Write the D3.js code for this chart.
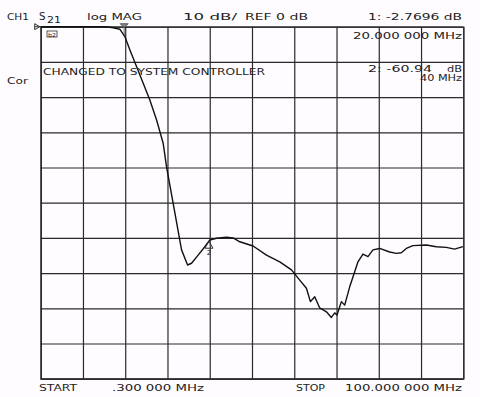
<!DOCTYPE html>
<html><head><meta charset="utf-8">
<script src="https://cdn.jsdelivr.net/npm/d3@7"></script>
<style>
html,body{margin:0;padding:0;background:#fefcfe;}
svg{display:block;}
text{font-family:"DejaVu Sans",sans-serif;fill:#222;}
</style></head>
<body>
<svg id="c" width="480" height="397"></svg>
<script>
// Sweep settings
const startMHz = 0.3;
const stopMHz = 100;
const refDb = 0;
const dbPerDiv = 10;
const xDivisions = 10;
const yDivisions = 10;

// Trace: frequency (MHz) and S21 magnitude (dB)
const freqMHz = [0.3, 5, 10, 14.3, 16.2, 17.4, 19.0, 20.17, 21.35, 22.93, 24.48, 26.05, 27.64, 29.19, 29.99, 31.55, 33.53, 34.95, 35.89, 37.44, 39.02, 40.2, 41.78, 44.14, 45.69, 47.27, 50.41, 53.56, 56.7, 59.46, 61.41, 62.99, 63.93, 64.95, 66.13, 67.71, 68.88, 69.66, 70.2, 71.24, 72.02, 73.2, 74.38, 75.15, 76.33, 77.51, 78.69, 80.27, 82.62, 84.2, 85.38, 86.56, 88.11, 91.27, 93.63, 95.99, 97.94, 99.9];
const magDb = [0, 0, 0, 0, -0.1, -0.3, -0.74, -2.84, -6.62, -11.36, -16.08, -20.82, -26.5, -33.1, -39.8, -50.2, -63.4, -67.7, -67.2, -64.9, -62.5, -60.6, -60.1, -59.8, -60.0, -61.1, -62.3, -64.9, -66.8, -69.1, -72.0, -74.3, -78.1, -76.7, -79.9, -81.0, -82.6, -81.3, -81.9, -78.1, -79.1, -73.9, -69.6, -66.8, -64.6, -65.3, -63.4, -63.0, -64.0, -64.4, -64.2, -63.0, -62.2, -62.0, -62.5, -62.7, -63.2, -62.5];

// Markers
const markerNames = ["1", "2"];
const markerFreq = [20, 40];
const markerDb = [-2.7696, -60.94];

const svg = d3.select("#c");
const L = 40.7, R = 463.3, T = 26.7, B = 378.7;
const x = d3.scaleLinear().domain([startMHz, stopMHz]).range([L, R]);
const y = d3.scaleLinear().domain([refDb, refDb - dbPerDiv * yDivisions]).range([T, B]);

const xTicks = d3.range(xDivisions + 1).map(i => startMHz + i * (stopMHz - startMHz) / xDivisions);
const yTicks = d3.range(yDivisions + 1).map(i => refDb - i * dbPerDiv);

const gridColor = "#2a2a2a";
svg.append("g").attr("transform", `translate(0,${B})`)
  .call(d3.axisBottom(x).tickValues(xTicks).tickSize(-(B - T)).tickFormat(""))
  .call(g => g.select(".domain").attr("stroke", gridColor).attr("stroke-width", 1.2))
  .call(g => g.selectAll(".tick line").attr("stroke", gridColor).attr("stroke-width", 1.2));
svg.append("g").attr("transform", `translate(${L},0)`)
  .call(d3.axisLeft(y).tickValues(yTicks).tickSize(-(R - L)).tickFormat(""))
  .call(g => g.select(".domain").attr("stroke", gridColor).attr("stroke-width", 1.2))
  .call(g => g.selectAll(".tick line").attr("stroke", gridColor).attr("stroke-width", 1.2));

// reference-position marker on the left
svg.append("path").attr("d", `M${L-6},${y(refDb)-3}L${L-1},${y(refDb)}L${L-6},${y(refDb)+3}Z`)
  .attr("fill", "none").attr("stroke", "#333").attr("stroke-width", 1);
svg.append("line").attr("x1", L - 6).attr("x2", L).attr("y1", y(refDb)).attr("y2", y(refDb)).attr("stroke", "#333");

// trace
const pts = freqMHz.map((f, i) => [f, magDb[i]]);
svg.append("path").datum(pts)
  .attr("d", d3.line().x(d => x(d[0])).y(d => y(d[1])))
  .attr("fill", "none").attr("stroke", "#111").attr("stroke-width", 1.4).attr("stroke-linejoin", "round");

// marker 1 (active, down-triangle above trace)
{
  const mx = x(markerFreq[0]), my = y(markerDb[0]);
  svg.append("path").attr("d", `M${mx-4},${T-3}L${mx+4},${T-3}L${mx},${T+1}Z`)
    .attr("fill", "#888").attr("stroke", "#444").attr("stroke-width", 0.8);
  svg.append("line").attr("x1", mx).attr("x2", mx).attr("y1", T + 1).attr("y2", my)
    .attr("stroke", "#444").attr("stroke-width", 0.8);
}
// marker 2 (up-triangle below trace)
{
  const mx = x(markerFreq[1]), my = y(markerDb[1]);
  svg.append("path").attr("d", `M${mx},${my}L${mx-4},${my+7}L${mx+4},${my+7}Z`)
    .attr("fill", "none").attr("stroke", "#333").attr("stroke-width", 1);
  svg.append("text").attr("x", mx).attr("y", my + 14).attr("text-anchor", "middle")
    .attr("font-size", 7).text(markerNames[1]);
}

// small boxed annotation
svg.append("rect").attr("x", 47).attr("y", 31).attr("width", 10).attr("height", 6)
  .attr("fill", "none").attr("stroke", "#333").attr("stroke-width", 0.8);
svg.append("text").attr("x", 48).attr("y", 36.5).attr("font-size", 5.5).attr("textLength", 8).attr("lengthAdjust", "spacingAndGlyphs").text("b2");

function label(t, x0, base, w, fs) {
  svg.append("text").attr("x", x0).attr("y", base).attr("font-size", fs || 9)
    .attr("textLength", w).attr("lengthAdjust", "spacingAndGlyphs").text(t);
}
label("CH1", 7, 20, 22);
label("S", 39, 20, 6.5, 10);
label("21", 47, 23, 14);
label("log MAG", 87, 20, 55);
label("10 dB/", 183, 20, 54);
label("REF 0 dB", 245, 20, 63);
label("1: -2.7696 dB", 368, 20, 94);
label("20.000 000 MHz", 353, 39, 109);
label("2: -60.94", 368, 72, 64);
label("dB", 447, 72, 15);
label("40 MHz", 420, 81, 42);
label("CHANGED TO SYSTEM CONTROLLER", 43, 74.5, 222);
label("Cor", 7, 84, 21);
label("START", 39, 391, 38);
label(".300 000 MHz", 112, 391, 92);
label("STOP", 296, 391, 29);
label("100.000 000 MHz", 345, 391, 117);
</script>
</body></html>
